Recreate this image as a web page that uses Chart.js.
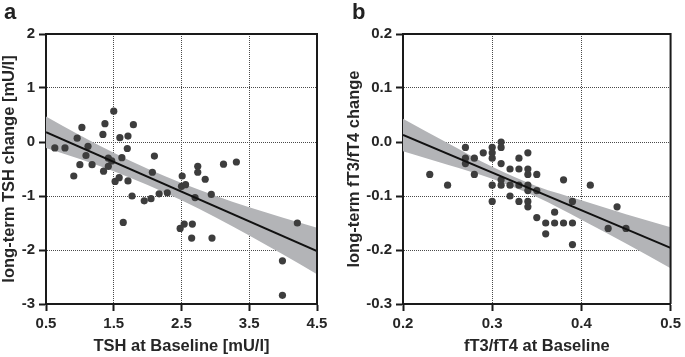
<!DOCTYPE html>
<html>
<head>
<meta charset="utf-8">
<script src="https://cdn.jsdelivr.net/npm/chart.js@4"></script>
<style>
  html, body { margin: 0; padding: 0; background: #fff; }
  #wrap { position: relative; width: 685px; height: 357px; overflow: hidden; }
  canvas { position: absolute; top: 0; }
  .tag { position: absolute; top: 1px; font: bold 22px "Liberation Sans", Arial, sans-serif; line-height: 22px; color: #222; }
</style>
</head>
<body>
<div id="wrap">
  <canvas id="chartA" width="345" height="357" style="left:0"></canvas>
  <canvas id="chartB" width="340" height="357" style="left:345px"></canvas>
  <div class="tag" style="left:4px">a</div>
  <div class="tag" style="left:352px">b</div>
</div>
<script>
// panel a: TSH
const tshBaseline = [0.63, 0.78, 0.91, 0.96, 1.00, 1.03, 1.09, 1.12, 1.18, 1.34,
  1.35, 1.37, 1.42, 1.42, 1.47, 1.50, 1.52, 1.58, 1.59, 1.62,
  1.64, 1.70, 1.71, 1.71, 1.77, 1.79, 1.95, 2.05, 2.07, 2.10,
  2.17, 2.29, 2.48, 2.50, 2.51, 2.54, 2.56, 2.65, 2.66, 2.70,
  2.74, 2.74, 2.85, 2.94, 2.95, 3.12, 3.31, 3.99, 3.99, 4.21];
const tshChange = [-0.11, -0.11, -0.63, 0.07, -0.42, 0.27, -0.25, -0.08, -0.42, 0.14,
  -0.54, 0.34, -0.30, -0.45, -0.35, 0.57, -0.73, -0.66, 0.08, -0.29,
  -1.49, -0.12, 0.11, -0.72, -1.00, 0.32, -1.09, -1.05, -0.56, -0.26,
  -0.96, -0.94, -1.60, -0.82, -0.63, -1.52, -0.79, -1.78, -1.52, -1.03,
  -0.45, -0.56, -0.69, -0.97, -1.78, -0.41, -0.37, -2.20, -2.84, -1.50];
const tshFitX = [0.5, 4.5];
const tshFitY = [0.18, -2.02];
const tshBandX = [0.5, 1.0, 1.5, 2.0, 2.5, 3.0, 3.5, 4.0, 4.5];
const tshBandUpper = [0.47, 0.125, -0.20, -0.495, -0.76, -0.995, -1.21, -1.405, -1.59];
const tshBandLower = [-0.11, -0.315, -0.54, -0.795, -1.08, -1.395, -1.73, -2.085, -2.45];
const tshXTicks = [0.5, 1.5, 2.5, 3.5, 4.5];
const tshXLabels = ['0.5', '1.5', '2.5', '3.5', '4.5'];
const tshYTicks = [-3, -2, -1, 0, 1, 2];
const tshYLabels = ['-3', '-2', '-1', '0', '1', '2'];

// panel b: fT3/fT4
const ratioBaseline = [0.23, 0.25, 0.27, 0.27, 0.27, 0.28, 0.28, 0.29,
  0.30, 0.30, 0.30, 0.30, 0.30, 0.31, 0.31, 0.31, 0.31, 0.31,
  0.32, 0.32, 0.32, 0.33, 0.33, 0.33, 0.33,
  0.34, 0.34, 0.34, 0.34, 0.34, 0.34, 0.34, 0.35, 0.35, 0.35,
  0.36, 0.36, 0.37, 0.37, 0.38, 0.38, 0.39, 0.39, 0.39, 0.41, 0.43, 0.44, 0.45];
const ratioChange = [-0.06, -0.08, -0.01, -0.03, -0.04, -0.03, -0.06, -0.02,
  -0.01, -0.02, -0.03, -0.08, -0.11, 0.00, -0.01, -0.04, -0.07, -0.08,
  -0.05, -0.08, -0.10, -0.03, -0.05, -0.08, -0.11,
  -0.02, -0.05, -0.06, -0.08, -0.09, -0.11, -0.12, -0.06, -0.09, -0.14,
  -0.15, -0.17, -0.13, -0.15, -0.07, -0.15, -0.11, -0.15, -0.19, -0.08, -0.16, -0.12, -0.16];
const ratioFitX = [0.2, 0.5];
const ratioFitY = [0.013, -0.196];
const ratioBandX = [0.20, 0.25, 0.30, 0.35, 0.40, 0.45, 0.50];
const ratioBandUpper = [0.043, -0.002, -0.046, -0.082, -0.108, -0.134, -0.158];
const ratioBandLower = [-0.017, -0.042, -0.068, -0.102, -0.144, -0.188, -0.234];
const ratioXTicks = [0.2, 0.3, 0.4, 0.5];
const ratioXLabels = ['0.2', '0.3', '0.4', '0.5'];
const ratioYTicks = [-0.3, -0.2, -0.1, 0.0, 0.1, 0.2];
const ratioYLabels = ['-0.3', '-0.2', '-0.1', '0.0', '0.1', '0.2'];

const FONT = '"Liberation Sans", Arial, Helvetica, sans-serif';
const INK = '#262626';
const AXIS = '#1a1a1a';

const zip = (xs, ys) => xs.map((x, i) => ({ x, y: ys[i] }));

// top and right edges of the plot box
const boxFrame = {
  id: 'boxFrame',
  afterDraw(chart) {
    const { ctx, chartArea: a } = chart;
    ctx.save();
    ctx.strokeStyle = AXIS;
    ctx.lineWidth = 2;
    ctx.beginPath();
    ctx.moveTo(a.left, a.top);
    ctx.lineTo(a.right, a.top);
    ctx.lineTo(a.right, a.bottom);
    ctx.stroke();
    ctx.restore();
  },
};

function axis(ticks, labels, title, extra) {
  const last = ticks.length - 1;
  return Object.assign({
    type: 'linear',
    min: ticks[0],
    max: ticks[last],
    afterBuildTicks: (s) => { s.ticks = ticks.map((v) => ({ value: v })); },
    ticks: {
      autoSkip: false,
      maxRotation: 0,
      padding: 4,
      color: INK,
      font: { family: FONT, size: 15, weight: 'bold' },
      callback: (v, i) => labels[i],
    },
    grid: {
      color: (c) => (c.index === 0 || c.index === last ? 'rgba(0,0,0,0)' : '#4a4a4a'),
      lineWidth: 1,
      tickColor: AXIS,
      tickWidth: 2,
      tickLength: 7,
    },
    border: { display: true, color: AXIS, width: 2, dash: [1, 1] },
    title: {
      display: true,
      text: title,
      color: INK,
      font: { family: FONT, size: 16.5, weight: 'bold', lineHeight: 1.2 },
      padding: { top: 0, bottom: 1 },
    },
  }, extra);
}

function makePanel(canvas, o) {
  return new Chart(canvas, {
    type: 'scatter',
    data: {
      datasets: [
        {
          type: 'line', data: zip(o.fitX, o.fitY), order: 0,
          borderColor: '#111', borderWidth: 2, pointRadius: 0,
        },
        {
          data: zip(o.xs, o.ys), order: 1,
          pointRadius: 3.6, pointBackgroundColor: '#3d3d3d', pointBorderWidth: 0,
        },
        {
          type: 'line', data: zip(o.bandX, o.bandUpper), order: 2,
          borderWidth: 0, pointRadius: 0, cubicInterpolationMode: 'monotone',
        },
        {
          type: 'line', data: zip(o.bandX, o.bandLower), order: 2,
          borderWidth: 0, pointRadius: 0, cubicInterpolationMode: 'monotone',
          fill: '-1', backgroundColor: '#b3b4b7',
        },
      ],
    },
    options: {
      responsive: false,
      animation: false,
      devicePixelRatio: 1,
      layout: { padding: { left: 0, top: 34, right: o.padRight, bottom: 0 } },
      plugins: { legend: { display: false }, tooltip: { enabled: false } },
      scales: {
        x: axis(o.xTicks, o.xLabels, o.xTitle, {
          position: 'bottom',
          afterFit: (s) => { s.height = 53; },
        }),
        y: axis(o.yTicks, o.yLabels, o.yTitle, {
          position: 'left',
          afterFit: (s) => { s.width = o.yWidth; },
        }),
      },
    },
    plugins: [boxFrame],
  });
}

makePanel(document.getElementById('chartA'), {
  xs: tshBaseline, ys: tshChange,
  fitX: tshFitX, fitY: tshFitY,
  bandX: tshBandX, bandUpper: tshBandUpper, bandLower: tshBandLower,
  xTicks: tshXTicks, xLabels: tshXLabels, yTicks: tshYTicks, yLabels: tshYLabels,
  xTitle: 'TSH at Baseline [mU/l]', yTitle: 'long-term TSH change [mU/l]',
  yWidth: 46, padRight: 28,
});

makePanel(document.getElementById('chartB'), {
  xs: ratioBaseline, ys: ratioChange,
  fitX: ratioFitX, fitY: ratioFitY,
  bandX: ratioBandX, bandUpper: ratioBandUpper, bandLower: ratioBandLower,
  xTicks: ratioXTicks, xLabels: ratioXLabels, yTicks: ratioYTicks, yLabels: ratioYLabels,
  xTitle: 'fT3/fT4 at Baseline', yTitle: 'long-term fT3/fT4 change',
  yWidth: 58, padRight: 11,
});
</script>
</body>
</html>
